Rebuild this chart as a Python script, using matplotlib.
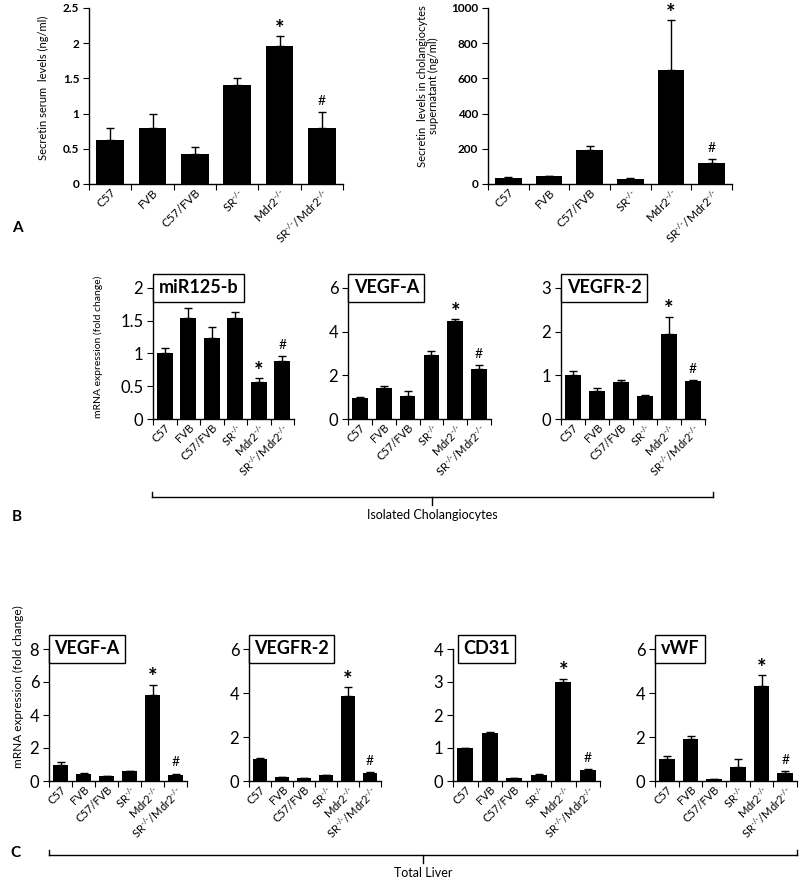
import numpy as np
import matplotlib
matplotlib.use('Agg')
import matplotlib.pyplot as plt
from matplotlib.lines import Line2D

plt.rcParams['font.family'] = ['Lato', 'DejaVu Sans']
plt.rcParams['mathtext.fontset'] = 'custom'
plt.rcParams['mathtext.rm'] = 'Lato'
plt.rcParams['mathtext.it'] = 'Lato:italic'
plt.rcParams['axes.linewidth'] = 1.0

W, H = 800, 880

# ── data ─────────────────────────────────────────────────────
groups = ['C57', 'FVB', 'C57/FVB', r'SR$^{\text{-/-}}$', r'Mdr2$^{\text{-/-}}$',
          r'SR$^{\text{-/-}}$/Mdr2$^{\text{-/-}}$']

serum_mean = [0.62, 0.80, 0.42, 1.40, 1.96, 0.80]
serum_top = [0.80, 1.00, 0.53, 1.50, 2.10, 1.02]

super_mean = [36, 45, 195, 28, 649, 121]
super_top = [38, 48, 214, 34, 930, 140]

chol_mir_mean = [1.00, 1.54, 1.23, 1.54, 0.56, 0.89]
chol_mir_top = [1.09, 1.69, 1.40, 1.64, 0.62, 0.96]
chol_vegfa_mean = [0.98, 1.44, 1.06, 2.92, 4.47, 2.29]
chol_vegfa_top = [1.00, 1.53, 1.27, 3.10, 4.56, 2.48]
chol_vegfr2_mean = [1.00, 0.64, 0.85, 0.53, 1.94, 0.87]
chol_vegfr2_top = [1.09, 0.70, 0.89, 0.55, 2.34, 0.89]

liv_vegfa_mean = [1.00, 0.43, 0.28, 0.59, 5.24, 0.39]
liv_vegfa_top = [1.16, 0.49, 0.30, 0.63, 5.83, 0.45]
liv_vegfr2_mean = [1.00, 0.17, 0.14, 0.26, 3.86, 0.36]
liv_vegfr2_top = [1.03, 0.19, 0.15, 0.29, 4.26, 0.41]
liv_cd31_mean = [1.00, 1.44, 0.08, 0.19, 3.00, 0.32]
liv_cd31_top = [1.00, 1.49, 0.09, 0.20, 3.10, 0.35]
liv_vwf_mean = [0.99, 1.89, 0.08, 0.64, 4.30, 0.35]
liv_vwf_top = [1.13, 2.03, 0.09, 0.99, 4.82, 0.46]


fig = plt.figure(figsize=(W / 100, H / 100), dpi=100)


def px_axes(x0, y0, x1, y1):
    # pixel box (top-left origin) -> figure axes
    return fig.add_axes([x0 / W, 1 - y1 / H, (x1 - x0) / W, (y1 - y0) / H])


def bar_panel(ax, mean, top, ymax, step, tick_fs, xl_fs,
              title=None, title_x=0.04):
    x = np.arange(len(mean))
    mean = np.array(mean, dtype=float)
    top = np.array(top, dtype=float)
    ax.bar(x, mean, width=0.66, color='black', zorder=2)
    ax.errorbar(x, mean, yerr=[np.zeros_like(mean), top - mean], fmt='none',
                ecolor='black', elinewidth=1.0, capsize=3, capthick=1.0,
                zorder=3)
    ax.set_xlim(-0.5, len(mean) - 0.5)
    ax.set_ylim(0, ymax)
    ax.set_yticks(np.arange(0, ymax + step / 2, step))
    ax.yaxis.set_major_formatter(plt.FuncFormatter(lambda v, p: f'{v:g}'))
    ax.set_xticks(np.arange(-0.5, len(mean)), labels=[])
    ax.set_xticks(x, labels=groups, minor=True)
    ax.tick_params(axis='x', which='minor', length=0, pad=2,
                   labelsize=xl_fs)
    ax.tick_params(axis='x', which='major', length=4, direction='out')
    ax.tick_params(axis='y', length=4, direction='out', labelsize=tick_fs,
                   pad=3)
    for lab in ax.get_xticklabels(minor=True):
        lab.set_rotation(45)
        lab.set_ha('right')
        lab.set_rotation_mode('anchor')
    for s in ['top', 'right']:
        ax.spines[s].set_visible(False)
    # significance marks just above the error caps
    ax.annotate('*', (4, top[4]), xytext=(0, 5), textcoords='offset points',
                ha='center', va='center', fontsize=16, fontweight='bold',
                annotation_clip=False)
    ax.annotate('#', (5, top[5]), xytext=(0, 8), textcoords='offset points',
                ha='center', va='center', fontsize=10,
                annotation_clip=False)
    if title:
        ax.text(title_x, 1.0, title, transform=ax.transAxes, ha='left',
                va='center', fontsize=13, fontweight='bold', clip_on=False,
                bbox=dict(boxstyle='square,pad=0.3', fc='white',
                          ec='black', lw=1.0))


# ── Panel A ──────────────────────────────────────────────────
axA1 = px_axes(89, 8, 343, 184)
bar_panel(axA1, serum_mean, serum_top, 2.5, 0.5, 8.5, 8.5)
axA2 = px_axes(488, 8, 732, 184)
bar_panel(axA2, super_mean, super_top, 1000, 200, 8.5, 8.5)
for lab in axA1.get_yticklabels() + axA2.get_yticklabels():
    lab.set_fontweight('bold')

fig.text(43 / W, 1 - 88 / H, 'Secretin serum  levels (ng/ml)', rotation=90,
         ha='center', va='center', fontsize=8)
fig.text(428 / W, 1 - 86 / H,
         'Secretin  levels in cholangiocytes\nsupernatant (ng/ml)',
         rotation=90, ha='center', va='center', fontsize=8,
         linespacing=1.1)
fig.text(12 / W, 1 - 228 / H, 'A', fontsize=11, fontweight='bold',
         ha='left', va='center')

# ── Panel B ──────────────────────────────────────────────────
axB1 = px_axes(153, 288, 294, 419)
bar_panel(axB1, chol_mir_mean, chol_mir_top, 2, 0.5, 12, 8,
          title='miR125-b')
axB2 = px_axes(348, 288, 491, 419)
bar_panel(axB2, chol_vegfa_mean, chol_vegfa_top, 6, 2, 12, 8,
          title='VEGF-A')
axB3 = px_axes(561, 288, 705, 419)
bar_panel(axB3, chol_vegfr2_mean, chol_vegfr2_top, 3, 1, 12, 8,
          title='VEGFR-2')

fig.text(98 / W, 1 - 347 / H, 'mRNA expression (fold change)', rotation=90,
         ha='center', va='center', fontsize=7.5)
fig.text(12 / W, 1 - 517 / H, 'B', fontsize=11, fontweight='bold',
         ha='left', va='center')

# ── Panel C ──────────────────────────────────────────────────
axC1 = px_axes(49, 649, 187, 781)
bar_panel(axC1, liv_vegfa_mean, liv_vegfa_top, 8, 2, 12, 8,
          title='VEGF-A')
axC2 = px_axes(249, 649, 381, 781)
bar_panel(axC2, liv_vegfr2_mean, liv_vegfr2_top, 6, 2, 12, 8,
          title='VEGFR-2')
axC3 = px_axes(453, 649, 600, 781)
bar_panel(axC3, liv_cd31_mean, liv_cd31_top, 4, 1, 12, 8,
          title='CD31', title_x=0.07)
axC4 = px_axes(655, 649, 797, 781)
bar_panel(axC4, liv_vwf_mean, liv_vwf_top, 6, 2, 12, 8,
          title='vWF')

fig.text(18 / W, 1 - 687 / H, 'mRNA expression (fold change)', rotation=90,
         ha='center', va='center', fontsize=8.5)
fig.text(10 / W, 1 - 853 / H, 'C', fontsize=11, fontweight='bold',
         ha='left', va='center')


# ── brackets ─────────────────────────────────────────────────
def bracket(x0, x1, xm, y, label):
    pts = [((x0, y - 5), (x0, y)), ((x0, y), (x1, y)), ((x1, y), (x1, y - 5)),
           ((xm, y), (xm, y + 8))]
    for (a, b), (c, d) in pts:
        fig.add_artist(Line2D([a / W, c / W], [1 - b / H, 1 - d / H],
                              color='black', lw=1.0,
                              transform=fig.transFigure))
    fig.text(xm / W, 1 - (y + 18) / H, label, ha='center', va='center',
             fontsize=9)


bracket(152, 713, 432, 497, 'Isolated Cholangiocytes')
bracket(49, 797, 423, 855, 'Total Liver')

fig.savefig('out.png', dpi=100, facecolor='white')
